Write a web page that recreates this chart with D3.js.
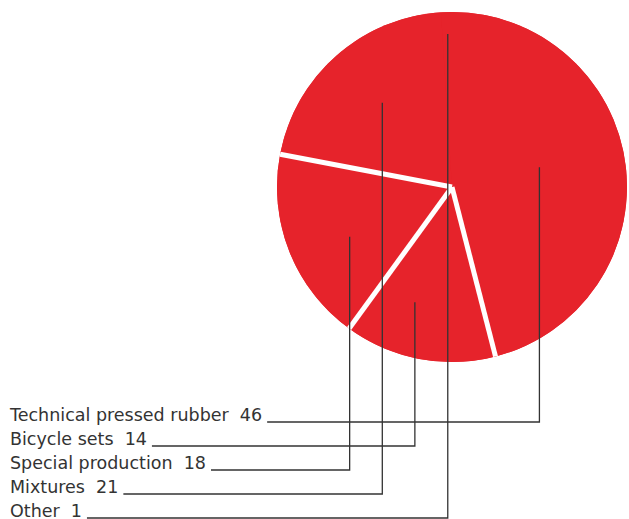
<!DOCTYPE html>
<html><head><meta charset="utf-8">
<script src="https://cdn.jsdelivr.net/npm/d3@7"></script>
<style>html,body{margin:0;padding:0;background:#fff;}</style>
</head><body>
<svg id="chart" width="629" height="519"></svg>
<script>
const categories = ["Technical pressed rubber", "Bicycle sets", "Special production", "Mixtures", "Other"];
const values = [46, 14, 18, 21, 1];
// leader anchor: fraction along the slice's angle span, distance from centre as fraction of radius
const anchorAngleFrac = [0.467, 0.64, 0.434, 0.524, 0.56];
const anchorRadiusFrac = [0.512, 0.692, 0.65, 0.625, 0.875];

const W = 629, H = 519;
const cx = 452, cy = 187, R = 175;
const red = "#e6232b", ink = "#333333";

const svg = d3.select("#chart");
const data = categories.map((c, i) => ({name: c, value: values[i], i}));
const pie = d3.pie().value(d => d.value).sort(null);
const arcs = pie(data);
const arc = d3.arc().innerRadius(0).outerRadius(R);

const g = svg.append("g").attr("transform", `translate(${cx},${cy})`);
g.append("circle").attr("r", R).attr("fill", red);
g.selectAll("path.slice").data(arcs).join("path")
  .attr("class", "slice").attr("d", arc).attr("fill", red);

// white separators between slices (the tiny "Other" slice is not separated)
const small = d => d.data.value <= 1;
const seps = [];
arcs.forEach((a, i) => {
  const prev = arcs[(i - 1 + arcs.length) % arcs.length];
  if (!small(a) && !small(prev)) seps.push(a.startAngle);
});
g.selectAll("line.sep").data(seps).join("line")
  .attr("class", "sep")
  .attr("x1", 0).attr("y1", 0)
  .attr("x2", a => R * Math.sin(a)).attr("y2", a => -R * Math.cos(a))
  .attr("stroke", "#fff").attr("stroke-width", 5);

// label rows
const rowY = d3.scalePoint().domain(categories).range([422, 518]);
const labels = svg.append("g");
const fontSize = 17.5;
data.forEach((d, i) => {
  const a = arcs[i];
  const ang = a.startAngle + anchorAngleFrac[i] * (a.endAngle - a.startAngle);
  const r = anchorRadiusFrac[i] * R;
  const ax = cx + r * Math.sin(ang), ay = cy - r * Math.cos(ang);
  const y = rowY(d.name);
  const t = labels.append("text")
    .attr("x", 10).attr("y", y - 1.5)
    .attr("font-family", "'DejaVu Sans', sans-serif")
    .attr("font-size", fontSize).attr("fill", ink)
    .style("white-space", "pre")
    .text(d.name + "  " + d.value);
  const tx = 10 + t.node().getComputedTextLength() + 5;
  labels.append("path")
    .attr("d", `M${tx},${y}H${ax}V${ay}`)
    .attr("fill", "none").attr("stroke", ink).attr("stroke-width", 1.3);
});
</script>
</body></html>
